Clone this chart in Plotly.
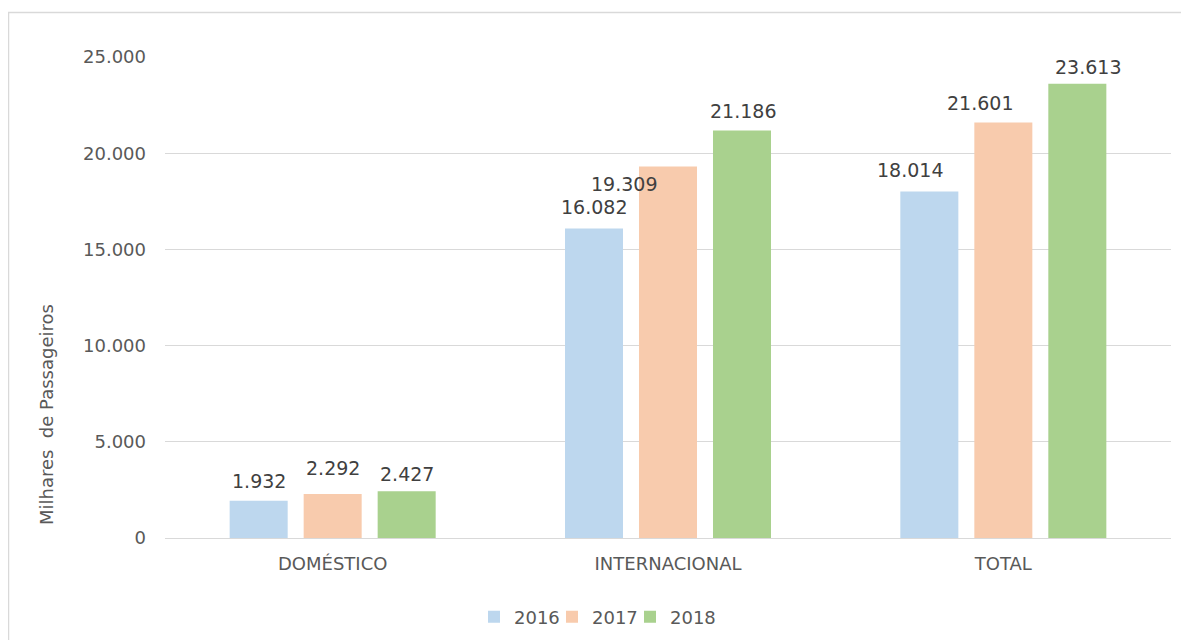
import plotly.graph_objects as go

categories = ["DOMÉSTICO", "INTERNACIONAL", "TOTAL"]
years = ["2016", "2017", "2018"]
values_2016 = [1932, 16082, 18014]
values_2017 = [2292, 19309, 21601]
values_2018 = [2427, 21186, 23613]
colors = ["#BDD7EE", "#F8CBAD", "#A9D18E"]
tick_vals = [0, 5000, 10000, 15000, 20000, 25000]
tick_text = ["0", "5.000", "10.000", "15.000", "20.000", "25.000"]

# manual data-label nudges (pixels) as placed in the original chart
label_dx = [[0, 0, -19], [0, -44, -23], [0, 1, 11]]
label_dy = [[20, 22, 21], [26, -18, 19], [17, 19, 17]]

FONT = "DejaVu Sans"

def fmt(v):
    return f"{v:,}".replace(",", ".")

W, H = 1181, 632
L, R, T, B = 157, 18, 49, 102
pw = W - L - R
ph = H - T - B
BARGAP = 0.338
GROUPGAP = 0.216
slot_px = pw / len(categories) * (1 - BARGAP) / len(years)

series = [values_2016, values_2017, values_2018]
fig = go.Figure()
annotations = []
for i, (yr, vals, col) in enumerate(zip(years, series, colors)):
    fig.add_trace(go.Bar(
        x=categories, y=vals, name=yr,
        marker=dict(color=col, line=dict(width=0)),
        hoverinfo="x+y+name",
    ))
    for j, (c, v) in enumerate(zip(categories, vals)):
        annotations.append(dict(
            x=c, y=v, xref="x", yref="y", text=fmt(v), showarrow=False,
            xanchor="center", yanchor="middle",
            xshift=(i - (len(years) - 1) / 2) * slot_px + label_dx[i][j],
            yshift=label_dy[i][j],
            font=dict(family=FONT, size=19, color="#404040")))

# invisible spacer entry so the last legend label is not clipped
fig.add_trace(go.Scatter(x=[None], y=[None], mode="markers", name="",
                         marker=dict(size=0.1, color="rgba(0,0,0,0)",
                                     line=dict(width=0, color="rgba(0,0,0,0)")),
                         showlegend=True, hoverinfo="skip"))

annotations.append(dict(
    text="Milhares  de Passageiros", xref="paper", yref="paper",
    x=(39 - L) / pw, y=(H - B - 407) / ph, textangle=-90,
    showarrow=False, xanchor="center", yanchor="middle",
    font=dict(family=FONT, size=18, color="#595959")))

fig.update_layout(
    width=W, height=H,
    margin=dict(l=L, r=R, t=T, b=B, autoexpand=False),
    paper_bgcolor="white", plot_bgcolor="white",
    barmode="group", bargap=BARGAP, bargroupgap=GROUPGAP,
    font=dict(family=FONT, color="#595959"),
    showlegend=True,
    legend=dict(orientation="h", x=(466 - L) / pw, xanchor="left",
                y=(H - B - 609) / ph, yanchor="middle",
                font=dict(family=FONT, size=18, color="#595959"), itemwidth=30,
                entrywidth=33, traceorder="normal"),
    xaxis=dict(showgrid=False, showline=True, linecolor="#D9D9D9", linewidth=1,
               ticks="", ticklabelstandoff=9,
               tickfont=dict(family=FONT, size=18, color="#595959")),
    yaxis=dict(range=[0, 25000], tickvals=tick_vals, ticktext=tick_text,
               showgrid=True, gridcolor="#D9D9D9", gridwidth=1,
               zeroline=False, showline=False, ticks="", ticklabelstandoff=18,
               tickfont=dict(family=FONT, size=18, color="#595959")),
    shapes=[dict(type="rect", xref="paper", yref="paper",
                 x0=(0.5 - L) / pw, x1=(W + 20 - L) / pw,
                 y0=(H - B - (H + 20)) / ph, y1=(H - B - 4.5) / ph,
                 line=dict(color="#D9D9D9", width=1.5), fillcolor="rgba(0,0,0,0)",
                 layer="below")],
    annotations=annotations,
)

fig.write_html("out.html")
